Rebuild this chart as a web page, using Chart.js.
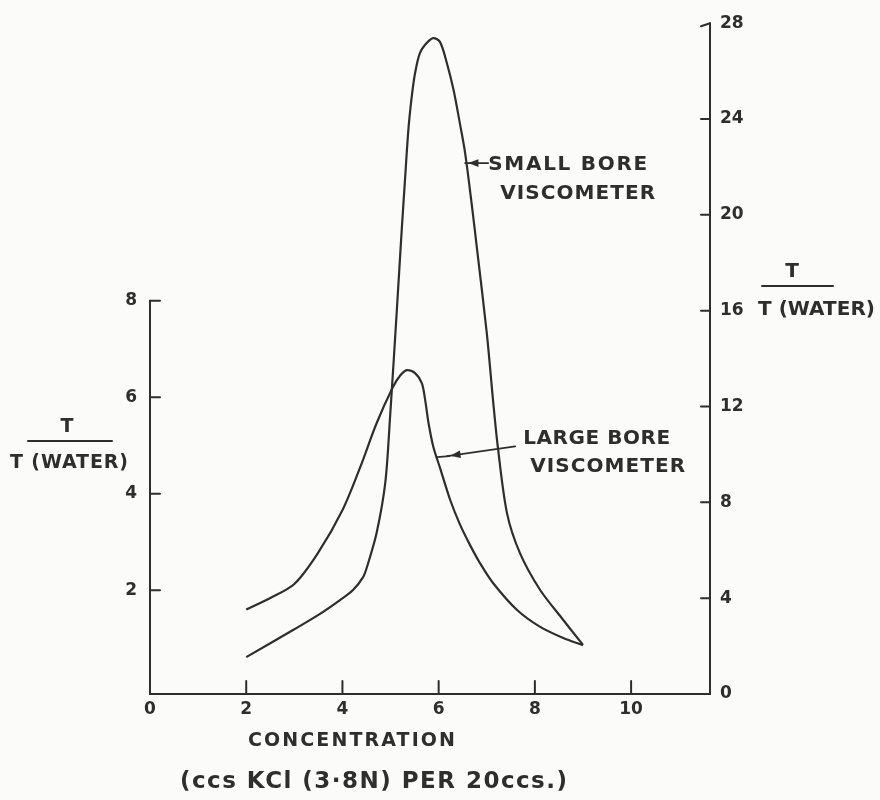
<!DOCTYPE html>
<html>
<head>
<meta charset="utf-8">
<script src="https://cdn.jsdelivr.net/npm/chart.js@4"></script>
<style>
  html, body { margin: 0; padding: 0; background: #fbfbfa; }
  canvas { display: block; }
</style>
</head>
<body>
<canvas id="chart" width="880" height="800"></canvas>
<script>
// concentration (ccs KCl per 20ccs) and T/T(water)
const largeX = [2.0, 2.5, 3.0, 3.49, 4.01, 4.37, 4.71, 5.05, 5.2, 5.34, 5.51, 5.65, 5.72, 5.79, 5.89, 6.03, 6.24, 6.44, 6.65, 6.86, 7.13, 7.63, 8.11, 8.59, 9.0];
const largeY = [1.6, 1.84, 2.13, 2.77, 3.68, 4.55, 5.46, 6.21, 6.45, 6.56, 6.50, 6.29, 5.94, 5.46, 4.97, 4.53, 3.87, 3.37, 2.94, 2.56, 2.15, 1.59, 1.24, 1.01, 0.86];

const smallX = [2.0, 3.0, 3.5, 3.95, 4.22, 4.43, 4.51, 4.71, 4.89, 4.99, 5.13, 5.23, 5.30, 5.37, 5.44, 5.51, 5.61, 5.75, 5.89, 6.03, 6.17, 6.31, 6.44, 6.55, 6.69, 6.8, 7.0, 7.13, 7.23, 7.42, 7.69, 8.11, 8.59, 9.0];
const smallY = [1.54, 2.7, 3.3, 3.92, 4.34, 4.88, 5.30, 6.72, 8.81, 11.56, 16.0, 19.3, 21.45, 23.54, 24.92, 25.92, 26.75, 27.17, 27.38, 27.21, 26.34, 25.21, 23.83, 22.58, 20.4, 18.53, 15.07, 12.27, 10.31, 7.55, 5.88, 4.34, 3.09, 2.05];

const xTicks = [0, 2, 4, 6, 8, 10];
const leftTicks = [2, 4, 6, 8];
const rightTicks = [0, 4, 8, 12, 16, 20, 24, 28];

const INK = '#2e2e2e';
const FONT = '"DejaVu Sans", sans-serif';

function pts(xs, ys) { return xs.map((x, i) => ({ x, y: ys[i] })); }

// text stretched to a width, like the hand lettering
function fitText(ctx, str, left, cy, w, size) {
    ctx.font = `bold ${size}px ${FONT}`;
    ctx.letterSpacing = '0px';
    const m = ctx.measureText(str).width;
    const s = str.length > 1 ? (w - m) / (str.length - 1) : 0;
    ctx.letterSpacing = s + 'px';
    ctx.textAlign = 'left';
    ctx.textBaseline = 'middle';
    ctx.fillText(str, left, cy);
    ctx.letterSpacing = '0px';
}

function arrow(ctx, x1, y1, x2, y2) {
    ctx.beginPath(); ctx.moveTo(x1, y1); ctx.lineTo(x2, y2); ctx.stroke();
    const a = Math.atan2(y2 - y1, x2 - x1);
    const hx = x2 - Math.cos(a) * 3, hy = y2 - Math.sin(a) * 3;
    ctx.beginPath();
    ctx.moveTo(hx, hy);
    ctx.lineTo(hx - Math.cos(a - 0.35) * 11, hy - Math.sin(a - 0.35) * 11);
    ctx.lineTo(hx - Math.cos(a + 0.35) * 11, hy - Math.sin(a + 0.35) * 11);
    ctx.closePath(); ctx.fill();
}

const handAxes = {
    id: 'handAxes',
    afterDraw(chart) {
        const { ctx, scales: { x, yL, yR } } = chart;
        const bottom = x.top, x0 = x.getPixelForValue(0), xr = x.right;
        ctx.save();
        ctx.strokeStyle = INK; ctx.fillStyle = INK;
        ctx.lineWidth = 2; ctx.lineCap = 'round';

        // left axis, only up to 8
        const y8 = yL.getPixelForValue(leftTicks[leftTicks.length - 1]);
        ctx.beginPath(); ctx.moveTo(x0, y8); ctx.lineTo(x0, bottom); ctx.lineTo(xr, bottom); ctx.lineTo(xr, yR.getPixelForValue(28)); ctx.stroke();
        leftTicks.forEach(v => {
            const p = yL.getPixelForValue(v);
            ctx.beginPath(); ctx.moveTo(x0, p); ctx.lineTo(x0 + 10, p); ctx.stroke();
        });
        rightTicks.slice(1).forEach(v => {
            const p = yR.getPixelForValue(v);
            ctx.beginPath(); ctx.moveTo(xr, p); ctx.lineTo(xr - 9, p + (v === 28 ? 3 : 0)); ctx.stroke();
        });
        xTicks.slice(1).forEach(v => {
            const p = x.getPixelForValue(v);
            ctx.beginPath(); ctx.moveTo(p, bottom); ctx.lineTo(p, bottom - 13); ctx.stroke();
        });

        // axis titles
        ctx.textAlign = 'center'; ctx.textBaseline = 'middle';
        ctx.font = `bold 19px ${FONT}`;
        ctx.fillText('T', 67, 427);
        ctx.beginPath(); ctx.moveTo(28, 441); ctx.lineTo(112, 441); ctx.stroke();
        fitText(ctx, 'T (WATER)', 10, 463, 118, 19);
        ctx.textAlign = 'center';
        ctx.font = `bold 20px ${FONT}`;
        ctx.fillText('T', 792, 272);
        ctx.beginPath(); ctx.moveTo(762, 286); ctx.lineTo(833, 286); ctx.stroke();
        fitText(ctx, 'T (WATER)', 758, 310, 117, 20);

        fitText(ctx, 'CONCENTRATION', 248, 741, 207, 19);
        fitText(ctx, '(ccs KCl (3·8N) PER 20ccs.)', 180, 782, 387, 23);

        // curve labels
        ctx.lineWidth = 1.8;
        const sx = x.getPixelForValue(6.55), sy = yR.getPixelForValue(22.16);
        const stx = x.getPixelForValue(7.03);
        arrow(ctx, stx, sy, sx, sy);
        fitText(ctx, 'SMALL BORE', stx, sy + 2, 159, 20);
        fitText(ctx, 'VISCOMETER', stx + 12, sy + 31, 155, 20);

        const lx = x.getPixelForValue(5.97), ly = yL.getPixelForValue(4.76);
        const ltx = x.getPixelForValue(7.59), lty = yL.getPixelForValue(4.98);
        arrow(ctx, ltx, lty, lx + 10, ly - 1);
        ctx.beginPath(); ctx.moveTo(lx + 12, ly - 1); ctx.lineTo(lx, ly); ctx.stroke();
        fitText(ctx, 'LARGE BORE', ltx + 8, lty - 8, 147, 20);
        fitText(ctx, 'VISCOMETER', ltx + 15, lty + 20, 155, 20);
        ctx.restore();
    }
};

const tickFont = { family: FONT, size: 17, weight: 'bold' };
const lineStyle = { borderColor: INK, backgroundColor: INK, borderWidth: 2.2, pointRadius: 0, fill: false, tension: 0.3 };

new Chart(document.getElementById('chart'), {
    type: 'line',
    data: {
        datasets: [
            { label: 'Large bore viscometer', data: pts(largeX, largeY), yAxisID: 'yL', ...lineStyle },
            { label: 'Small bore viscometer', data: pts(smallX, smallY), yAxisID: 'yR', ...lineStyle }
        ]
    },
    options: {
        responsive: false,
        animation: false,
        layout: { padding: { top: 23, left: 0, right: 0, bottom: 0 } },
        plugins: { legend: { display: false }, tooltip: { enabled: false } },
        scales: {
            x: {
                type: 'linear', position: 'bottom', min: 0, max: 11.64,
                grid: { display: false, drawTicks: false }, border: { display: false },
                ticks: { padding: 5, font: tickFont, color: INK },
                afterBuildTicks: s => { s.ticks = xTicks.map(v => ({ value: v })); },
                afterFit: s => { s.height = 106; }
            },
            yL: {
                type: 'linear', position: 'left', min: -0.15, max: 13.75,
                grid: { display: false, drawTicks: false }, border: { display: false },
                ticks: { padding: 13, font: tickFont, color: INK },
                afterBuildTicks: s => { s.ticks = leftTicks.map(v => ({ value: v })); },
                afterFit: s => { s.width = 150; }
            },
            yR: {
                type: 'linear', position: 'right', min: 0, max: 28,
                grid: { display: false, drawTicks: false }, border: { display: false },
                ticks: { padding: 10, font: tickFont, color: INK },
                afterBuildTicks: s => { s.ticks = rightTicks.map(v => ({ value: v })); },
                afterFit: s => { s.width = 170; }
            }
        }
    },
    plugins: [handAxes]
});
</script>
</body>
</html>
